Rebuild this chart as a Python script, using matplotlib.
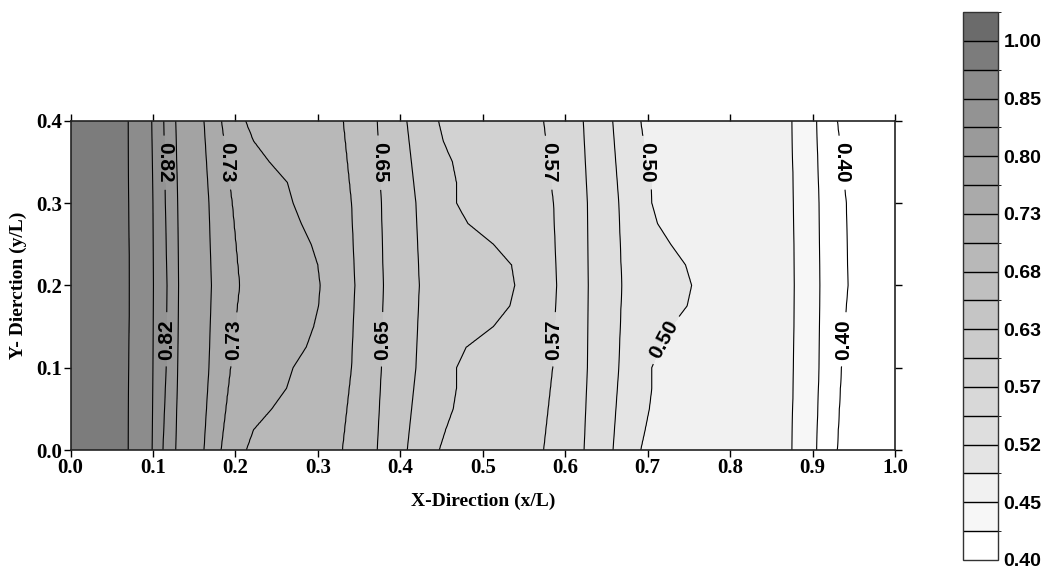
import numpy as np
import matplotlib
matplotlib.use("Agg")
import matplotlib.pyplot as plt
from matplotlib.colors import ListedColormap, BoundaryNorm
from matplotlib.cm import ScalarMappable

# contour level boundaries (colour bar, bottom to top)
levels = [0.40, 0.43, 0.45, 0.50, 0.52, 0.545, 0.57, 0.60, 0.63, 0.65,
          0.68, 0.705, 0.73, 0.765, 0.80, 0.82, 0.85, 0.92, 1.00, 1.05]
box_colors = ['#ffffff', '#f7f7f7', '#f1f1f1', '#e4e4e4', '#dedede', '#d8d8d8',
              '#d2d2d2', '#cbcbcb', '#c5c5c5', '#bfbfbf', '#b8b8b8', '#b1b1b1',
              '#aaaaaa', '#a3a3a3', '#9a9a9a', '#939393', '#8c8c8c', '#7c7c7c',
              '#6b6b6b']
labelled = [0.40, 0.50, 0.57, 0.65, 0.73, 0.82]

# traced x/L position of each contour line (levels[0] .. levels[17])
y_rows = [0.0, 0.1, 0.2, 0.3, 0.4]
y_fine = [0.0, 0.025, 0.05, 0.075, 0.1, 0.125, 0.15, 0.175, 0.2,
          0.225, 0.25, 0.275, 0.3, 0.325, 0.35, 0.375, 0.4]

x_040 = [0.930, 0.935, 0.943, 0.941, 0.930]
x_043 = [0.905, 0.908, 0.909, 0.908, 0.905]
x_045 = [0.875, 0.877, 0.878, 0.877, 0.875]
x_050 = [0.6915, 0.697, 0.702, 0.705, 0.705, 0.715, 0.729, 0.748, 0.7535,
         0.746, 0.728, 0.712, 0.705, 0.704, 0.699, 0.695, 0.6915]
x_052 = [0.658, 0.665, 0.6685, 0.665, 0.6576]
x_0545 = [0.623, 0.627, 0.628, 0.627, 0.622]
x_057 = [0.574, 0.585, 0.5897, 0.586, 0.574]
x_060 = [0.447, 0.455, 0.464, 0.468, 0.468, 0.480, 0.513, 0.533, 0.539,
         0.535, 0.513, 0.482, 0.468, 0.468, 0.463, 0.452, 0.446]
x_063 = [0.4085, 0.419, 0.423, 0.419, 0.408]
x_065 = [0.372, 0.377, 0.3794, 0.377, 0.372]
x_068 = [0.330, 0.341, 0.345, 0.341, 0.331]
x_0705 = [0.213, 0.222, 0.244, 0.262, 0.270, 0.286, 0.295, 0.301, 0.303,
          0.300, 0.292, 0.280, 0.270, 0.263, 0.241, 0.222, 0.212]
x_073 = [0.1825, 0.194, 0.205, 0.196, 0.183]
x_0765 = [0.162, 0.168, 0.171, 0.168, 0.162]
x_080 = [0.1276, 0.130, 0.131, 0.130, 0.1276]
x_082 = [0.112, 0.116, 0.117, 0.115, 0.113]
x_085 = [0.099, 0.100, 0.1005, 0.100, 0.0985]
x_092 = [0.070, 0.071, 0.0714, 0.071, 0.070]

line_x = [x_040, x_043, x_045, x_050, x_052, x_0545, x_057, x_060, x_063,
          x_065, x_068, x_0705, x_073, x_0765, x_080, x_082, x_085, x_092]
line_y = [y_fine if len(xs) == len(y_fine) else y_rows for xs in line_x]
value_left, value_right = 0.96, 0.37

# build the field from the traced lines
xg = np.linspace(0, 1, 801)
yg = np.linspace(0, 0.4, 161)
Z = np.empty((len(yg), len(xg)))
n_lines = len(line_x)
for j, yv in enumerate(yg):
    pos = [np.interp(yv, line_y[i], line_x[i]) for i in range(n_lines)]
    xp = [0.0] + pos[::-1] + [1.0]
    zp = [value_left] + levels[:n_lines][::-1] + [value_right]
    Z[j] = np.interp(xg, xp, zp)
X, Y = np.meshgrid(xg, yg)

fig = plt.figure(figsize=(10.46, 5.74), dpi=100)
ax = fig.add_axes([0.0674, 0.216, 0.7882, 0.5737])

ax.contourf(X, Y, Z, levels=levels, colors=['white'] + box_colors, extend='min')
plain = [lv for lv in levels[:n_lines] if lv not in labelled]
ax.contour(X, Y, Z, levels=plain, colors='black', linewidths=0.8)
cs = ax.contour(X, Y, Z, levels=labelled, colors='black', linewidths=0.8)

spots = []
for lv in labelled:
    i = levels.index(lv)
    for yv in (0.349, 0.1345):
        spots.append((np.interp(yv, line_y[i], line_x[i]), yv))
texts = ax.clabel(cs, manual=spots, fmt='%.2f', inline=True,
                  inline_spacing=4, fontsize=15)
for t in texts:
    t.set_fontfamily('Liberation Sans')
    t.set_fontweight('bold')
    xv, yv = t.get_position()
    r = t.get_rotation() % 360
    if min(abs(r - 90), abs(r - 270)) < 15:
        t.set_rotation(270 if yv > 0.2 else 90)

ax.set_xlim(0, 1)
ax.set_ylim(0, 0.4)
ax.set_xticks(np.arange(0, 1.01, 0.1))
ax.set_yticks(np.arange(0, 0.41, 0.1))
ax.xaxis.set_major_formatter(plt.FormatStrFormatter('%.1f'))
ax.yaxis.set_major_formatter(plt.FormatStrFormatter('%.1f'))
ax.tick_params(direction='out', length=5, width=1, top=True, right=True,
               labelsize=15, pad=1)
for lab in ax.get_xticklabels() + ax.get_yticklabels():
    lab.set_fontfamily('Liberation Serif')
    lab.set_fontweight('bold')
for sp in ax.spines.values():
    sp.set_linewidth(1.2)
    sp.set_color('#222222')

ax.set_xlabel('X-Direction (x/L)', fontsize=14, fontweight='bold',
              fontfamily='Liberation Serif')
ax.set_ylabel('Y- Dierction (y/L)', fontsize=14, fontweight='bold',
              fontfamily='Liberation Serif')
ax.xaxis.set_label_coords(0.5, -0.13)
ax.yaxis.set_label_coords(-0.053, 0.5)

# colour bar
cax = fig.add_axes([0.9207, 0.0244, 0.0335, 0.9547])
sm = ScalarMappable(norm=BoundaryNorm(levels, ncolors=len(box_colors)),
                    cmap=ListedColormap(box_colors))
cbar = fig.colorbar(sm, cax=cax, spacing='uniform', drawedges=True,
                    ticks=levels[::2])
cbar.set_ticklabels([f'{v:.2f}' for v in levels[::2]])
cbar.ax.tick_params(length=0, pad=4)
for lab in cbar.ax.get_yticklabels():
    lab.set_fontfamily('Liberation Sans')
    lab.set_fontweight('bold')
    lab.set_fontsize(14)
cbar.outline.set_edgecolor('#333333')
cbar.outline.set_linewidth(1)
cbar.dividers.set_color('black')
cbar.dividers.set_linewidth(1)

fig.savefig('out.png', dpi=100)
